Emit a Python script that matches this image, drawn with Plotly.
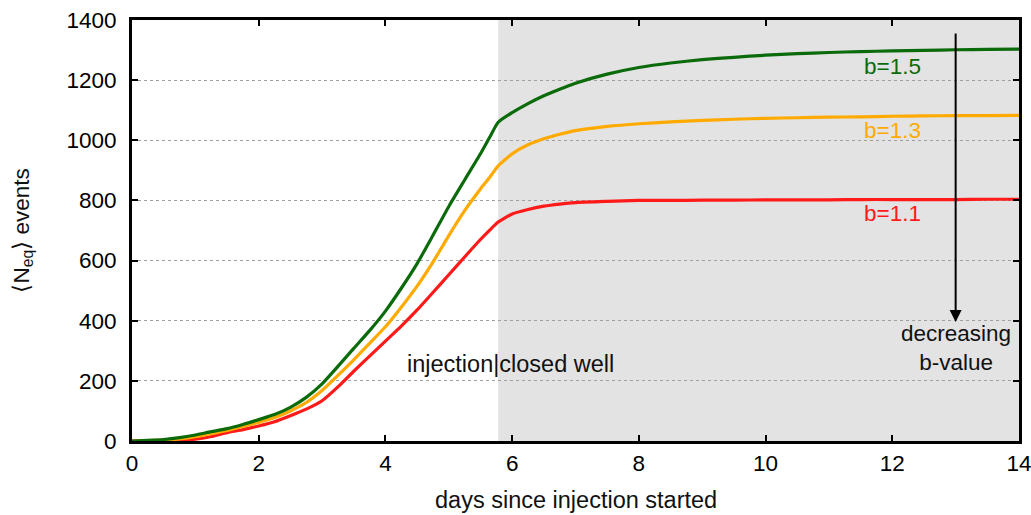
import plotly.graph_objects as go

# Days since injection started
days = [0, 0.25, 0.5, 0.75, 1.0, 1.25, 1.5, 1.75, 2.0, 2.25, 2.5, 2.75, 3.0, 3.25,
        3.5, 3.75, 4.0, 4.25, 4.5, 4.75, 5.0, 5.25, 5.5, 5.65, 5.78, 6.0, 6.25, 6.5,
        6.75, 7.0, 7.5, 8.0, 8.5, 9.0, 9.5, 10.0, 10.5, 11.0, 11.5, 12.0, 12.5, 13.0,
        13.5, 14.0]

# Expected number of events for each b-value
n_b15 = [0, 2, 5, 11, 20, 31, 41, 55, 71, 88, 112, 145, 190, 248,
         308, 367, 432, 508, 590, 684, 780, 868, 955, 1012, 1060, 1092, 1122, 1148,
         1170, 1190, 1220, 1242, 1257, 1268, 1276, 1283, 1288, 1292, 1295, 1297, 1299, 1301,
         1302, 1303]
n_b13 = [0, 1, 3, 7, 14, 24, 35, 48, 62, 78, 100, 128, 168, 218,
         270, 325, 380, 445, 515, 595, 683, 766, 838, 878, 915, 955, 985, 1005,
         1020, 1032, 1046, 1055, 1061, 1066, 1070, 1073, 1075, 1077, 1078, 1080, 1081, 1082,
         1082, 1083]
n_b11 = [0, 1, 2, 3, 6, 15, 28, 38, 50, 64, 84, 106, 134, 180,
         232, 282, 332, 382, 436, 494, 553, 612, 670, 702, 728, 755, 770, 781,
         788, 793, 797, 800, 800, 801, 801, 802, 802, 802, 803, 803, 803, 803,
         804, 804]

well_closed_day = 5.78
x_ticks = [0, 2, 4, 6, 8, 10, 12, 14]
y_ticks = [0, 200, 400, 600, 800, 1000, 1200, 1400]

GREEN = "#0b6b0b"
ORANGE = "#ffaa00"
RED = "#ff1a1a"
INK = "#111111"
FONT = "Liberation Sans, Arial, sans-serif"

fig = go.Figure()
for vals, col in [(n_b11, RED), (n_b13, ORANGE), (n_b15, GREEN)]:
    fig.add_trace(go.Scatter(x=days, y=vals, mode="lines",
                             line=dict(color=col, width=3.2, shape="spline", smoothing=0.5),
                             showlegend=False))

# Shaded period after the well was closed
fig.add_shape(type="rect", xref="x", yref="y", x0=well_closed_day, x1=14,
              y0=0, y1=1400, fillcolor="#e3e3e3", line_width=0, layer="below")

fig.add_annotation(x=12.0, y=1247, text="b=1.5", showarrow=False,
                   font=dict(color=GREEN, size=22.5, family=FONT))
fig.add_annotation(x=12.0, y=1034, text="b=1.3", showarrow=False,
                   font=dict(color=ORANGE, size=22.5, family=FONT))
fig.add_annotation(x=12.0, y=757, text="b=1.1", showarrow=False,
                   font=dict(color=RED, size=22.5, family=FONT))

# Arrow showing the decreasing b-value direction
fig.add_annotation(x=13.0, y=396, ax=13.0, ay=1360, xref="x", yref="y",
                   axref="x", ayref="y", text="", showarrow=True,
                   arrowhead=2, arrowsize=1.2, arrowwidth=2, arrowcolor="black")
fig.add_annotation(x=13.0, y=309, text="decreasing<br>b-value", showarrow=False,
                   align="center", yanchor="middle",
                   font=dict(color=INK, size=22.5, family=FONT))

fig.add_annotation(x=5.97, y=256, text="injection|closed well", showarrow=False,
                   font=dict(color=INK, size=23.5, family=FONT))

# Axis titles
fig.add_annotation(xref="paper", yref="paper", x=0.5, y=-0.14, text="days since injection started",
                   showarrow=False, yanchor="middle",
                   font=dict(color=INK, size=23.5, family=FONT))
fig.add_annotation(xref="paper", yref="paper", x=-0.124, y=0.5, text="⟨N<sub>eq</sub>⟩ events",
                   showarrow=False, textangle=-90, xanchor="center", yanchor="middle",
                   font=dict(color=INK, size=22.5, family=FONT))

axis_common = dict(showline=True, linecolor="black", linewidth=3, mirror="ticks",
                   ticks="inside", ticklen=6, tickwidth=2, tickcolor="black",
                   tickfont=dict(size=22.5, family=FONT, color="black"), zeroline=False,
                   automargin=False, ticklabeloverflow="allow")

fig.update_xaxes(range=[0, 14], tickvals=x_ticks, showgrid=False, **axis_common)
fig.update_yaxes(range=[0, 1400], tickvals=y_ticks, showgrid=True,
                 gridcolor="#a0a0a0", griddash="dot", gridwidth=1,
                 ticklabelstandoff=8, **axis_common)

fig.update_layout(width=1031, height=515, paper_bgcolor="white", plot_bgcolor="white",
                  margin=dict(l=132, r=12, t=20, b=74), font=dict(family=FONT))

fig.write_html("out.html")
